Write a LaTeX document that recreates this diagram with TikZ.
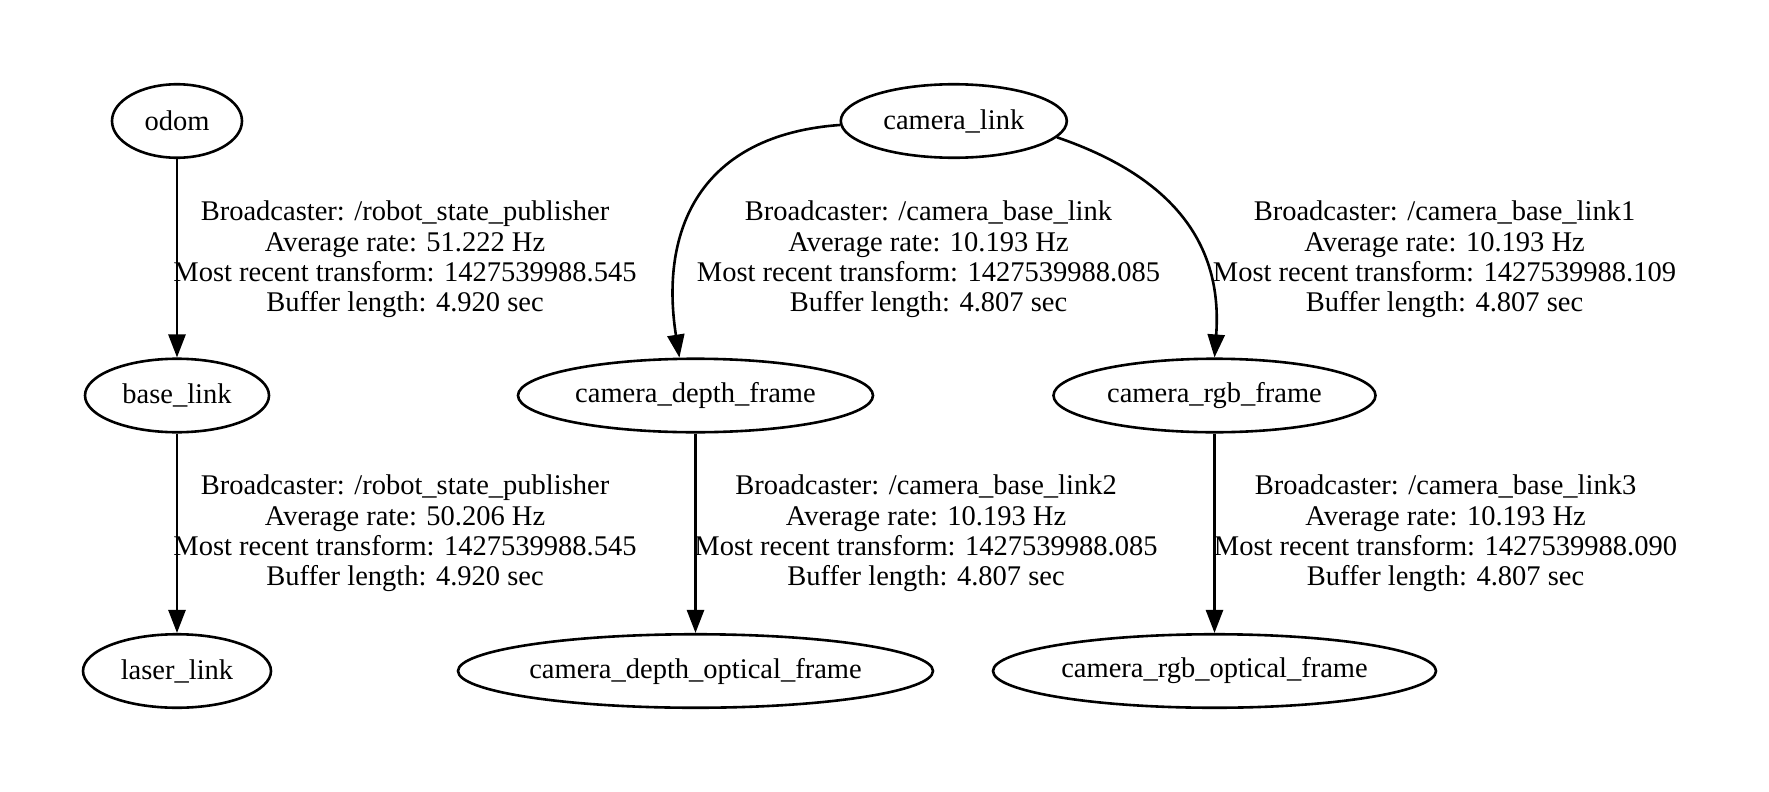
\documentclass[tikz,border=0pt]{standalone}
\usepackage{fontspec}
\setmainfont{Liberation Serif}
\usetikzlibrary{shapes.geometric,arrows.meta}
\begin{document}
\begin{tikzpicture}[x=1pt,y=-1pt,
  tf/.style={ellipse, draw, line width=2.6pt, inner sep=0pt, minimum height=73.5pt,
    font=\fontsize{28.5}{30.3}\selectfont},
  lbl/.style={align=center, inner sep=0pt, font=\fontsize{28.5}{30.3}\selectfont},
  edge/.style={line width=2.6pt, -{Triangle[length=23pt,width=17pt]}}]
\fill[white] (0,0) rectangle (1769,792);
\useasboundingbox (0,0) rectangle (1769,792);
% nodes
\node[tf, minimum width=130pt] (odom) at (177,121) {odom};
\node[tf, minimum width=184pt] (base) at (177,395.5) {base\_link};
\node[tf, minimum width=188pt] (laser) at (177,671) {laser\_link};
\node[tf, minimum width=226pt] (cl) at (953.8,121) {camera\_link};
\node[tf, minimum width=355pt] (cdf) at (695.5,395.5) {camera\_depth\_frame};
\node[tf, minimum width=322pt] (crf) at (1214.5,395.5) {camera\_rgb\_frame};
\node[tf, minimum width=475pt] (cdof) at (695.5,671) {camera\_depth\_optical\_frame};
\node[tf, minimum width=443pt] (crof) at (1214.5,671) {camera\_rgb\_optical\_frame};
% labels
\node[lbl] (l1) at (405,259.6) {Broadcaster: /robot\_state\_publisher\\Average rate: 51.222 Hz\\Most recent transform: 1427539988.545\\Buffer length: 4.920 sec};
\node[lbl] (l2) at (405,533.6) {Broadcaster: /robot\_state\_publisher\\Average rate: 50.206 Hz\\Most recent transform: 1427539988.545\\Buffer length: 4.920 sec};
\node[lbl] (l3) at (928.5,259.6) {Broadcaster: /camera\_base\_link\\Average rate: 10.193 Hz\\Most recent transform: 1427539988.085\\Buffer length: 4.807 sec};
\node[lbl] (l4) at (1444.5,259.6) {Broadcaster: /camera\_base\_link1\\Average rate: 10.193 Hz\\Most recent transform: 1427539988.109\\Buffer length: 4.807 sec};
\node[lbl] (l5) at (926,533.6) {Broadcaster: /camera\_base\_link2\\Average rate: 10.193 Hz\\Most recent transform: 1427539988.085\\Buffer length: 4.807 sec};
\node[lbl] (l6) at (1445.5,533.6) {Broadcaster: /camera\_base\_link3\\Average rate: 10.193 Hz\\Most recent transform: 1427539988.090\\Buffer length: 4.807 sec};
% edges
\draw[edge] (odom) -- (base);
\draw[edge] (base) -- (laser);
\draw[edge] (cdf) -- (cdof);
\draw[edge] (crf) -- (crof);
\draw[edge] (cl.182) .. controls +(-140,10) and +(-20,-128) .. (cdf.113);
\draw[edge] (cl.-9) .. controls +(123,42) and +(8,-107.5) .. (crf.north);
\end{tikzpicture}
\end{document}
